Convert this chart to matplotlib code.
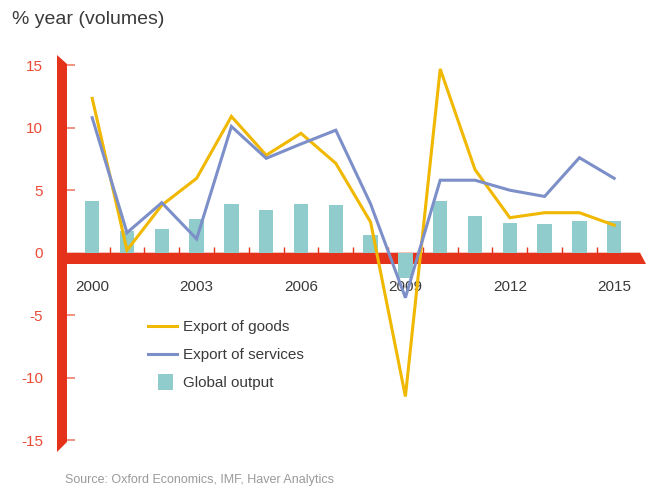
import matplotlib
matplotlib.use("Agg")
import matplotlib.pyplot as plt
from matplotlib.patches import Polygon, Rectangle
from matplotlib.legend_handler import HandlerPatch

# ---------------- data ----------------
years = list(range(2000, 2016))
export_goods = [12.35, 0.2, 3.8, 5.95, 10.9, 7.8, 9.55, 7.15, 2.45, -11.5,
                14.7, 6.65, 2.8, 3.2, 3.2, 2.2]
export_services = [10.8, 1.6, 4.0, 1.1, 10.1, 7.55, 8.7, 9.8, 3.9, -3.6,
                   5.8, 5.8, 5.0, 4.5, 7.6, 5.95]
global_output = [4.1, 1.7, 1.9, 2.7, 3.9, 3.4, 3.9, 3.8, 1.4, -2.0,
                 4.1, 2.95, 2.4, 2.3, 2.55, 2.5]
ytick_values = [-15, -10, -5, 0, 5, 10, 15]
xtick_years = [2000, 2003, 2006, 2009, 2012, 2015]
series_names = ["Export of goods", "Export of services", "Global output"]

# ---------------- style ----------------
RED = "#E5321B"
RED_LABEL = "#EA4A36"
SALMON = "#F39183"
TEAL = "#8FCCCB"
YELLOW = "#F0B800"
BLUE = "#7D8FC8"
DARK = "#3A3A3A"
GREY = "#9A9A9A"
FONT = ["Liberation Sans", "DejaVu Sans"]

plt.rcParams["font.family"] = FONT

W, H = 646, 487
fig = plt.figure(figsize=(W / 100, H / 100), dpi=100)

# axes placement in pixels
ax_left, ax_right, ax_top, ax_bot = 57, 646, 50, 460
ax = fig.add_axes([ax_left / W, (H - ax_bot) / H,
                   (ax_right - ax_left) / W, (ax_bot - ax_top) / H])

# pixel <-> data mapping used to set limits
x0_px, x_step = 92.2, 34.8      # px of year 2000, px per year
y0_px, y_step = 252.7, 12.5     # px of value 0, px per unit


def xd(px):
    return years[0] + (px - x0_px) / x_step


def yd(py):
    return (y0_px - py) / y_step


ax.set_xlim(xd(ax_left), xd(ax_right))
ax.set_ylim(yd(ax_bot), yd(ax_top))

# decorative red axis bars
vbar = Polygon([(xd(57), yd(55)), (xd(67), yd(64)), (xd(67), yd(442)),
                (xd(57), yd(452))], closed=True, facecolor=RED,
               edgecolor="none", zorder=1)
ax.add_patch(vbar)
hbar = Polygon([(xd(57), 0), (xd(640), 0), (xd(646), yd(264)),
                (xd(57), yd(264))], closed=True, facecolor=RED,
               edgecolor="none", zorder=1)
ax.add_patch(hbar)

# salmon y ticks beside the vertical bar
for v in ytick_values:
    if v == 0:
        continue
    ax.plot([xd(67), xd(75)], [v, v], color=SALMON, lw=1.4,
            solid_capstyle="butt", zorder=1)

# small red ticks between years on the zero bar
for yr in years[:-1]:
    ax.plot([yr + 0.5, yr + 0.5], [0, yd(247)], color=RED, lw=1.0,
            solid_capstyle="butt", zorder=1)

# data
bars = ax.bar(years, global_output, width=0.41, color=TEAL, zorder=2.1,
              edgecolor="none", label=series_names[2])
l1, = ax.plot(years, export_goods, color=YELLOW, lw=2.2, zorder=2.3,
              solid_joinstyle="miter", label=series_names[0])
l2, = ax.plot(years, export_services, color=BLUE, lw=2.2, zorder=2.3,
              solid_joinstyle="miter", label=series_names[1])

# axes cosmetics
for s in ax.spines.values():
    s.set_visible(False)
ax.spines["bottom"].set_position(("data", 0))
ax.set_xticks(xtick_years)
ax.set_xticklabels([str(y) for y in xtick_years])
ax.set_yticks(ytick_values)
ax.set_yticklabels([str(v) for v in ytick_values])
ax.tick_params(axis="x", length=0, pad=20, labelsize=11, labelcolor=DARK)
ax.tick_params(axis="y", length=0, pad=10, labelsize=11, labelcolor=RED_LABEL)
ax.set_facecolor("none")


def square_patch(legend, orig_handle, xdescent, ydescent, width, height,
                 fontsize):
    s = height * 1.45
    return Rectangle((-xdescent + width * 0.34, -ydescent + height / 2 - s / 2),
                     s, s)


bar_handle = bars.patches[0]
leg = ax.legend([l1, l2, bar_handle], series_names,
                handler_map={bar_handle: HandlerPatch(patch_func=square_patch)},
                loc="upper left", bbox_to_anchor=(148 / W, (H - 320) / H),
                bbox_transform=fig.transFigure, frameon=False,
                borderpad=0, borderaxespad=0, handlelength=1.9,
                handletextpad=0.42, labelspacing=0.93, fontsize=11,
                labelcolor=DARK)
leg.set_zorder(5)

# title and source
fig.text(12 / W, 1 - 20 / H, "% year (volumes)", fontsize=14, color=DARK,
         ha="left", va="center")
fig.text(65 / W, 1 - 480 / H, "Source: Oxford Economics, IMF, Haver Analytics",
         fontsize=9, color=GREY, ha="left", va="center")

fig.savefig("out.png", dpi=100)
